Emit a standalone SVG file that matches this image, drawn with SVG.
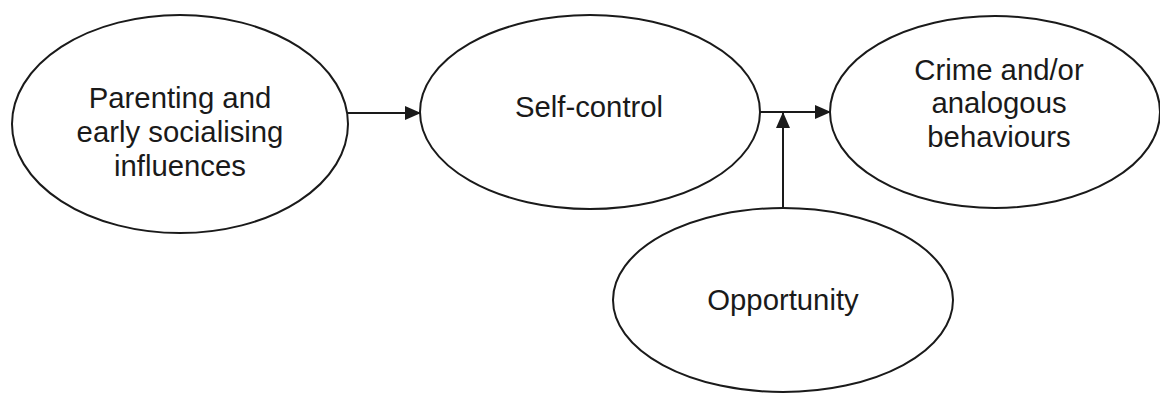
<svg xmlns="http://www.w3.org/2000/svg" width="1160" height="395" viewBox="0 0 1160 395">
  <style>
    .node ellipse { fill: #ffffff; stroke: #1a1a1a; stroke-width: 2; }
    .node text { font-family: "Liberation Sans", Arial, sans-serif; font-size: 29.3px; fill: #1a1a1a; text-anchor: middle; }
    .edge { stroke: #1a1a1a; stroke-width: 2; fill: none; }
  </style>
  <defs>
    <marker id="arrow" viewBox="0 0 16 14" refX="15" refY="7" markerWidth="16" markerHeight="14" markerUnits="userSpaceOnUse" orient="auto">
      <path d="M0,0 L16,7 L0,14 Z" fill="#1a1a1a"/>
    </marker>
  </defs>
  <rect width="1160" height="395" fill="#ffffff"/>

  <g id="connectors">
    <line class="edge" x1="348" y1="113" x2="420" y2="113" marker-end="url(#arrow)"/>
    <line class="edge" x1="760" y1="112" x2="830" y2="112" marker-end="url(#arrow)"/>
    <line class="edge" x1="783" y1="208" x2="783" y2="113" marker-end="url(#arrow)"/>
  </g>

  <g id="parenting" class="node">
    <ellipse cx="180" cy="124" rx="168" ry="109"/>
    <text x="180" y="108">Parenting and</text>
    <text x="180" y="142">early socialising</text>
    <text x="180" y="176">influences</text>
  </g>

  <g id="self-control" class="node">
    <ellipse cx="590" cy="112" rx="170" ry="97"/>
    <text x="589" y="117">Self-control</text>
  </g>

  <g id="crime" class="node">
    <ellipse cx="995" cy="112" rx="165" ry="96"/>
    <text x="999" y="80">Crime and/or</text>
    <text x="999" y="113">analogous</text>
    <text x="999" y="147">behaviours</text>
  </g>

  <g id="opportunity" class="node">
    <ellipse cx="783" cy="300" rx="170" ry="92"/>
    <text x="783" y="310">Opportunity</text>
  </g>
</svg>
